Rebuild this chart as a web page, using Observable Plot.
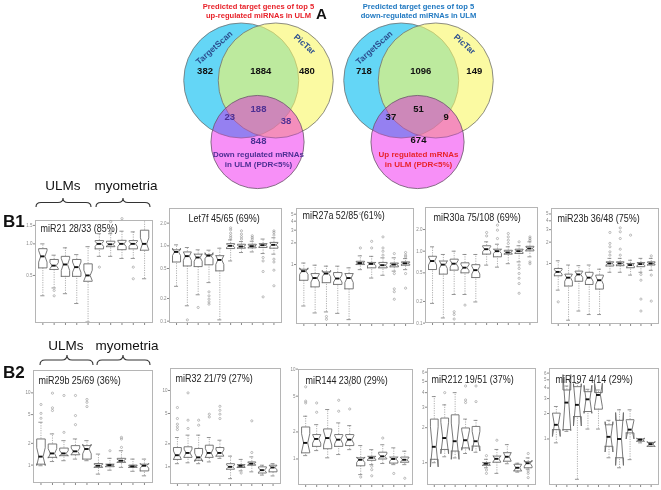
<!DOCTYPE html>
<html><head><meta charset="utf-8">
<script src="https://cdn.jsdelivr.net/npm/d3@7"></script>
<script src="https://cdn.jsdelivr.net/npm/@observablehq/plot@0.6"></script>
<style>
body{margin:0;background:#fff;font-family:"Liberation Sans",Arial,sans-serif;}
#root{position:relative;width:661px;height:490px;overflow:hidden;background:#fff;}
.abs{position:absolute;}
.lbl{position:absolute;font-size:13.5px;color:#111;white-space:nowrap;transform:translate(-50%,-50%);}
.big{position:absolute;font-weight:bold;color:#111;white-space:nowrap;transform:translate(0,-50%);}
</style></head><body><div id="root"></div>
<script>
const FONT = '"Liberation Sans", Arial, sans-serif';

// ---------- Panel A : Venn data ----------
const vennSetNames = ["TargetScan", "PicTar"];
const vennLeftTitle = "Predicted target genes of top 5\nup-regulated miRNAs in ULM";
const vennRightTitle = "Predicted target genes of top 5\ndown-regulated miRNAs in ULM";
const vennLeftCounts = [382, 1884, 480, 188, 23, 38, 848];
const vennRightCounts = [718, 1096, 149, 51, 37, 9, 674];
const vennLeftThird = "Down regulated mRNAs\nin ULM (PDR<5%)";
const vennRightThird = "Up regulated mRNAs\nin ULM (PDR<5%)";
// layout in circle-radius units
const circleCX = [-0.3, 0.3, -0.017];
const circleCY = [0, 0, -1.07];
const circleR = [1, 1, 0.81];
const circleFill = ["rgb(100,214,246)", "rgba(248,246,100,0.6)", "rgb(245,128,245)"];
const regionLX = [-0.93, 0.04, 0.84, 0, -0.5, 0.48, 0];
const regionLY = [0.17, 0.17, 0.17, -0.49, -0.64, -0.71, -1.06];
const regionRX = [-0.95, 0.04, 0.97, 0, -0.48, 0.48, 0];
const regionRY = [0.17, 0.17, 0.17, -0.49, -0.64, -0.64, -1.03];

// ---------- Panel B : box statistics [low whisker, Q1, median, Q3, high whisker] ----------
const panelTitles = ["miR21 28/33 (85%)", "Let7f 45/65 (69%)", "miR27a 52/85 (61%)", "miR30a 75/108 (69%)", "miR23b 36/48 (75%)",
  "miR29b 25/69 (36%)", "miR32 21/79 (27%)", "miR144 23/80 (29%)", "miR212 19/51 (37%)", "miR197 4/14 (29%)"];
const groupLabels = ["ULMs", "myometria"];

const statsMiR21 = [[.32,.59,.76,.90,1.0],[.38,.57,.62,.71,.78],[.335,.49,.636,.76,.916],[.27,.49,.60,.71,.79],[.18,.44,.50,.645,.94],
  [.76,.896,1.0,1.075,1.25],[.76,.94,.99,1.06,1.25],[.726,.88,1.0,1.08,1.32],[.726,.896,1.0,1.075,1.30],[.465,.87,1.0,1.35,1.75]];
const outMiR21 = [[2,.36],[2,.32],[6,.60],[7,1.30],[7,1.63],[8,1.74],[9,.60],[9,.465]];

const statsLet7f = [[.29,.61,.83,.885,1.03],[.16,.54,.73,.83,.95],[.224,.53,.70,.775,.885],[.325,.56,.74,.76,.875],[.104,.465,.65,.74,.93],
  [.63,.92,1.0,1.07,1.2],[.815,.93,.98,1.05,1.14],[.83,.94,.99,1.05,1.15],[.79,.95,1.02,1.07,1.23],[.775,.93,1.03,1.11,1.28]];
const outLet7f = [[2,.104],[3,.152],[4,.245],[4,.217],[4,.196],[4,.18],[4,.168],[6,1.28],[6,1.36],[6,1.47],[6,1.63],[6,1.73],
  [7,1.23],[7,1.32],[7,1.43],[7,1.58],[8,1.23],[8,1.29],[8,1.36],[9,.70],[9,.63],[9,.456],[9,.21],
  [10,1.39],[10,1.5],[10,1.58],[10,.665],[10,.61],[10,.475],[10,.295]];

const statsMiR27a = [[.266,.605,.81,.86,1.05],[.213,.49,.65,.75,.98],[.22,.56,.75,.79,.95],[.21,.53,.64,.775,.95],[.172,.46,.65,.75,.9],
  [.85,1.0,1.05,1.11,1.32],[.65,.9,1.02,1.07,1.3],[.71,.9,.98,1.07,1.24],[.81,.93,1.0,1.05,1.24],[.85,.98,1.04,1.09,1.21]];
const outMiR27a = [[3,.19],[3,.174],[6,1.7],[6,5.1],[7,1.7],[7,2.1],[8,1.35],[8,1.53],[8,1.7],[8,2.42],
  [9,1.42],[9,.75],[9,.46],[9,.42],[9,.33],[10,1.47],[10,1.35],[10,1.28],[10,.75],[10,.47]];

const statsMiR30a = [[.188,.556,.73,.85,1.15],[.118,.48,.65,.73,.9],[.25,.545,.67,.775,1.0],[.25,.5,.59,.69,.9],[.197,.43,.545,.65,.9],
  [.64,.91,1.066,1.19,1.35],[.6,.835,1.0,1.066,1.25],[.67,.91,.96,1.03,1.15],[.71,.93,1.0,1.066,1.19],[.835,1.01,1.09,1.17,1.35]];
const outMiR30a = [[3,.144],[3,.132],[3,.114],[4,.178],[6,1.63],[6,1.82],[7,1.5],[7,1.96],[7,2.3],[8,1.28],[8,1.42],[8,1.58],[8,1.76],
  [9,1.35],[9,.64],[9,.575],[9,.49],[9,.42],[9,.355],[9,.26],[10,1.58],[10,1.5],[10,1.42],[10,.71],[10,.67]];

const statsMiR23b = [[.42,.67,.76,.85,1.09],[.158,.48,.63,.707,.95],[.213,.56,.70,.78,.93],[.19,.505,.63,.75,.95],[.19,.435,.58,.685,.83],
  [.75,.92,1.0,1.055,1.18],[.75,.93,1.0,1.055,1.18],[.685,.87,.95,1.0,1.11],[.75,.9,.98,1.03,1.18],[.8,.95,1.0,1.055,1.18]];
const outMiR23b = [[1,.287],[6,1.31],[6,1.46],[6,1.72],[6,1.92],[6,2.74],[7,1.31],[7,1.59],[7,2.25],[7,2.8],[7,3.18],[8,2.51],
  [9,.7],[9,.58],[9,.314],[9,.213],[10,1.28],[10,.685],[10,.294]];

const statsMiR29b = [[.98,1.03,1.31,2.3,3.92],[1.12,1.28,1.45,1.96,2.7],[1.15,1.35,1.45,1.72,2.18],[1.21,1.39,1.55,1.86,2.3],[1.15,1.21,1.67,1.86,2.18],
  [.75,.93,.98,1.05,1.42],[.85,.95,1.0,1.03,1.24],[.93,1.09,1.15,1.24,1.58],[.82,.93,.96,1.0,1.21],[.71,.83,.98,1.03,1.21]];
const outMiR29b = [[1,4.45],[1,5.2],[1,6.9],[2,5.7],[2,6.2],[2,9.9],[3,2.84],[3,9.2],[4,3.63],[4,4.85],[4,9.2],[5,6.46],[5,7.4],[5,8.1],
  [7,1.58],[8,1.76],[8,2.3],[8,2.42]];

const statsMiR32 = [[1.1,1.25,1.42,1.79,2.42],[1.13,1.33,1.52,1.83,2.6],[1.1,1.22,1.33,1.74,2.6],[1.16,1.33,1.52,1.92,2.42],[1.29,1.38,1.52,1.79,2.23],
  [.70,.93,1.0,1.1,1.38],[.886,.98,1.03,1.07,1.25],[.86,1.05,1.1,1.16,1.35],[.78,.83,.905,1.0,1.05],[.76,.86,.98,1.05,1.1]];
const outMiR32 = [[1,3.08],[1,3.34],[1,3.62],[1,4.29],[1,5.98],[2,3.18],[2,4.08],[2,9.3],[3,3.51],[3,4.08],[4,4.5],[4,4.89],
  [5,4.29],[5,4.89],[5,5.5],[5,6.2],[7,.83],[8,1.54],[8,4.0]];

const statsMiR144 = [[1.09,1.17,1.51,2.27,2.99],[1.24,1.38,1.67,1.87,2.41],[1.03,1.3,1.71,2.16,3.55],[1.12,1.38,1.64,1.87,2.52],[1.27,1.41,1.64,1.87,2.35],
  [.67,.84,.98,1.03,1.41],[.865,.966,1.03,1.07,1.27],[.89,1.0,1.07,1.19,1.44],[.865,.9,1.0,1.05,1.33],[.865,.92,.98,1.05,1.22]];
const outMiR144 = [[1,4.2],[1,4.4],[1,6.35],[2,3.31],[2,4.2],[4,3.4],[4,4.5],[5,3.6],[5,6.7],[6,.63],[7,.83],[7,.76],[7,.65],
  [8,1.71],[9,.69],[10,.61]];

const statsMiR212 = [[1.0,1.07,1.37,2.37,3.7],[1.125,1.3,1.63,2.42,3.14],[1.1,1.26,1.53,2.58,4.0],[1.2,1.34,1.56,1.99,2.37],[1.23,1.39,1.53,2.05,2.31],
  [.905,.95,.98,1.0,1.07],[.81,1.01,1.08,1.14,1.3],[.98,1.03,1.125,1.22,1.43],[.83,.85,.905,.97,.99],[.88,.905,.99,1.02,1.1]];
const outMiR212 = [[2,4.0],[4,3.29],[4,3.46],[4,4.56],[5,3.35],[5,4.56],[6,1.15],[6,.866],[6,.81],[7,1.56],[10,1.2],[10,.85],[10,.81],[10,.745]];

const statsMiR197 = [[.9,1.29,1.47,2.02,2.42],[1.23,1.29,2.69,3.79,4.22],[.334,1.84,2.53,4.15,4.53],[1.31,2.11,2.94,3.62,3.86],[1.31,2.25,3.31,3.53,3.79],
  [.6,.82,1.06,1.47,1.66],[.457,.6,1.0,1.66,2.21],[.57,1.18,1.29,1.69,2.21],[.9,.94,.98,1.0,1.0],[.82,.82,.87,.91,.91]];
const outMiR197 = [];

// samples per box (drives notch size)
const boxN = [28, 28, 28, 28, 28, 20, 20, 20, 10, 5];
const yTicks = [[0.5,1,1.5],[0.1,0.2,0.5,1,2],[1,2,3,4,5],[0.1,0.2,0.5,1,2],[1,2,3,4,5],[1,2,5,10],[1,2,5,10],[1,2,5,10],[1,2,3,4,5,6],[1,2,3,4,5,6]];
const yDomains = [[0.178,1.67],[0.096,3.13],[0.152,6.0],[0.102,4.05],[0.142,5.97],[0.574,20.4],[0.605,19.4],[0.52,9.9],[0.65,6.45],[0.29,6.8]];
const allStats = [statsMiR21, statsLet7f, statsMiR27a, statsMiR30a, statsMiR23b, statsMiR29b, statsMiR32, statsMiR144, statsMiR212, statsMiR197];
const allOut = [outMiR21, outLet7f, outMiR27a, outMiR30a, outMiR23b, outMiR29b, outMiR32, outMiR144, outMiR212, outMiR197];

// ---------- layout ----------
const frames = [[35,152,220,322],[169,281,208,322],[296,413,208,323],[425,537,207,322],[551,658,208,323],
  [33,152,370,482],[170,280,368,483],[298,412,369,484],[427,535,368,484],[549,658,368,484]];
const titleDx = [5, 19, 6, 8, 6, 5, 5, 7, 4, 6];
const titleDy = [8, 10, 7, 10, 10, 10, 10, 11, 11, 11];
const TITLE_SIZE = 10.8, TITLE_SQUEEZE = 0.83;

const root = document.getElementById("root");
function place(node, left, top) {
  const d = document.createElement("div");
  d.className = "abs"; d.style.left = left + "px"; d.style.top = top + "px";
  d.appendChild(node); root.appendChild(d);
  return node;
}

// braces
function brace(x0, x1, xm, yt, yb) {
  const ym = (yt + yb) / 2;
  return `M${x0},${yb} Q${x0},${ym} ${x0+5},${ym} L${xm-5},${ym} Q${xm},${ym} ${xm},${yt} Q${xm},${ym} ${xm+5},${ym} L${x1-5},${ym} Q${x1},${ym} ${x1},${yb}`;
}
const braceSpecs = [[36,91,63,198,207],[96,150,123,198,207],[40,93,67,355,365],[97,150,123,355,365]];
const ns = "http://www.w3.org/2000/svg";
const bsvg = document.createElementNS(ns, "svg");
bsvg.setAttribute("width", 661); bsvg.setAttribute("height", 490);
bsvg.style.position = "absolute"; bsvg.style.left = "0"; bsvg.style.top = "0";
for (const b of braceSpecs) {
  const p = document.createElementNS(ns, "path");
  p.setAttribute("d", brace(...b)); p.setAttribute("fill", "none");
  p.setAttribute("stroke", "#333"); p.setAttribute("stroke-width", "1.1");
  bsvg.appendChild(p);
}
root.appendChild(bsvg);

// text labels
function label(text, cls, x, y, size) {
  const d = document.createElement("div");
  d.className = cls; d.textContent = text;
  d.style.left = x + "px"; d.style.top = y + "px";
  if (size) d.style.fontSize = size + "px";
  root.appendChild(d);
  return d;
}
label(groupLabels[0], "lbl", 63, 185); label(groupLabels[1], "lbl", 126, 185);
label(groupLabels[0], "lbl", 66, 345); label(groupLabels[1], "lbl", 127, 345);
label("B1", "big", 3, 222, 17); label("B2", "big", 3, 373, 17);

// Venn diagrams
function vennPlot(title, titleColor, counts, rx, ry, innerColor, third, thirdColor) {
  const circles = circleCX.map((x, i) => ({x, y: circleCY[i], r: circleR[i], fill: circleFill[i]}));
  const regions = counts.map((c, i) => ({x: rx[i], y: ry[i], t: String(c), c: i < 3 ? "#111" : innerColor}));
  const setLabels = [{x: -0.77, y: 0.57, t: vennSetNames[0], rot: -42}, {x: 0.8, y: 0.63, t: vennSetNames[1], rot: 42}];
  const pink = circles.slice(2);
  return Plot.plot({
    width: 190, height: 195, margin: 0,
    x: {domain: [-1.652, 1.652], axis: null},
    y: {domain: [-2.0, 1.391], axis: null},
    r: {type: "linear", domain: [0, 1], range: [0, 57.5]},
    color: {type: "identity"},
    style: {background: "transparent", overflow: "visible", fontFamily: FONT},
    marks: [
      Plot.dot(circles.slice(0, 2), {x: "x", y: "y", r: "r", fill: "fill", stroke: "#707070", strokeWidth: 0.8, sort: null}),
      Plot.dot(pink, {x: "x", y: "y", r: "r", fill: "fill", fillOpacity: 0.8, mixBlendMode: "multiply"}),
      Plot.dot(pink, {x: "x", y: "y", r: "r", fill: "fill", fillOpacity: 0.35, stroke: "#6a5a6a", strokeWidth: 0.8}),
      Plot.text(regions, {x: "x", y: "y", text: "t", fill: "c", fontWeight: "bold", fontSize: 9.5}),
      Plot.text(setLabels, {x: "x", y: "y", text: "t", rotate: "rot", fill: "#2b4f8f", fontWeight: "bold", fontSize: 8.5}),
      Plot.text([{x: 0, y: -1.357, t: third}], {x: "x", y: "y", text: "t", fill: thirdColor, fontWeight: "bold", fontSize: 8, lineHeight: 1.25}),
      Plot.text([title], {frameAnchor: "top", dy: 1.8, lineAnchor: "top", fill: titleColor, fontWeight: "bold", fontSize: 7.6, lineHeight: 1.18})
    ]
  });
}
place(vennPlot(vennLeftTitle, "#e8232b", vennLeftCounts, regionLX, regionLY, "#4d2f93", vennLeftThird, "#4d2f93"), 162.5, 0);
place(vennPlot(vennRightTitle, "#1f78c1", vennRightCounts, regionRX, regionRY, "#111", vennRightThird, "#e8232b"), 322.5, 0);
label("A", "big", 316, 13, 15);

// box panels
const mL = 13, mR = 1, mT = 1, mB = 5;
function boxPanel(p) {
  const [fl, fr, ft, fb] = frames[p];
  const stats = allStats[p];
  const k = 1.58 / Math.sqrt(boxN[p]);
  const w = 0.37;
  const polys = [], meds = [], whisk = [], staples = [];
  stats.forEach(([lo, q1, med, q3, hi], i) => {
    const x = i + 1;
    const L = Math.log(q3 / q1) * k;
    const nlo = med * Math.exp(-L), nhi = med * Math.exp(L);
    const xs = [-1, 1, 1, 0.5, 1, 1, -1, -1, -0.5, -1, -1];
    const ys = [q1, q1, nlo, med, nhi, q3, q3, nhi, med, nlo, q1];
    xs.forEach((d, j) => polys.push({box: i, x: x + d * w, y: ys[j]}));
    meds.push({x1: x - w / 2, x2: x + w / 2, y: med});
    whisk.push({x, y1: q3, y2: hi}, {x, y1: lo, y2: q1});
    staples.push({x1: x - w / 2, x2: x + w / 2, y: hi}, {x1: x - w / 2, x2: x + w / 2, y: lo});
  });
  return Plot.plot({
    width: fr - fl + mL + mR, height: fb - ft + mT + mB,
    marginLeft: mL, marginRight: mR, marginTop: mT, marginBottom: mB,
    x: {domain: [0.35, 10.7], ticks: [1,2,3,4,5,6,7,8,9,10], tickSize: 3, tickFormat: () => "", label: null},
    y: {type: "log", domain: yDomains[p], ticks: yTicks[p], tickSize: 2, tickPadding: 1, tickFormat: d => (d < 1 || d === 1.5 ? String(d) : d.toFixed(p < 5 && p !== 2 && p !== 4 ? 1 : 0)), label: null},
    style: {background: "transparent", overflow: "visible", fontFamily: FONT, fontSize: "4.5px", color: "#888"},
    marks: [
      Plot.frame({stroke: "#b5b5b5", strokeWidth: 1}),
      Plot.ruleX(whisk, {x: "x", y1: "y1", y2: "y2", stroke: "#858585", strokeWidth: 0.65, strokeDasharray: "1.2,1.2", clip: true}),
      Plot.ruleY(staples, {x1: "x1", x2: "x2", y: "y", stroke: "#707070", strokeWidth: 0.75, clip: true}),
      Plot.line(polys, {x: "x", y: "y", z: "box", stroke: "#6a6a6a", strokeWidth: 0.9, clip: true}),
      Plot.ruleY(meds, {x1: "x1", x2: "x2", y: "y", stroke: "#111", strokeWidth: 1.9}),
      Plot.dot(allOut[p], {x: d => d[0], y: d => d[1], r: 1.1, stroke: "#808080", strokeWidth: 0.5}),
      Plot.text([panelTitles[p]], {frameAnchor: "top-left", dx: titleDx[p], dy: titleDy[p], textAnchor: "start", lineAnchor: "middle", fontSize: TITLE_SIZE, fill: "#222"})
    ]
  });
}
for (let p = 0; p < 10; p++) {
  const [fl, , ft] = frames[p];
  const svg = place(boxPanel(p), fl - mL, ft - mT);
  // the reference titles are horizontally condensed: squeeze the glyphs
  const t = svg.querySelector('g[aria-label="text"] text');
  if (t && t.getComputedTextLength) {
    const len = t.getComputedTextLength();
    if (len > 0) { t.setAttribute("textLength", (len * TITLE_SQUEEZE).toFixed(1)); t.setAttribute("lengthAdjust", "spacingAndGlyphs"); }
  }
}
</script></body></html>
